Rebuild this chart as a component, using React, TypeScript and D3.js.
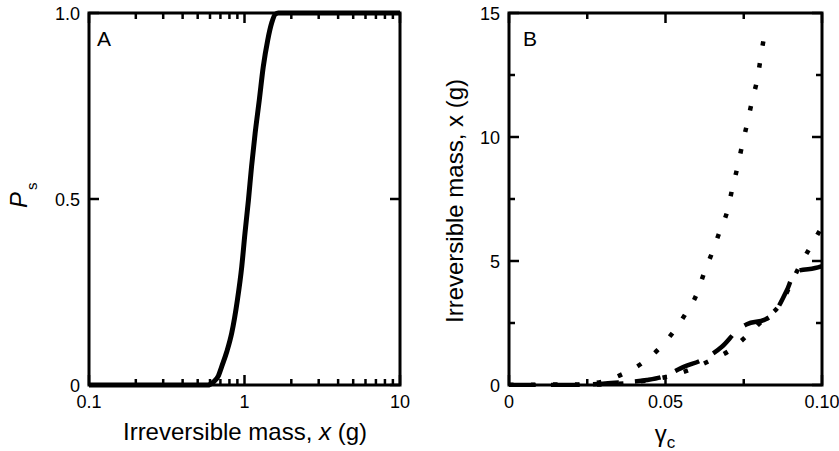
import React from "react";
import * as d3 from "d3";

// Panel A: survival probability vs irreversible mass (log x)
const aMass = [0.1, 0.58, 0.63, 0.68, 0.713, 0.77, 0.827, 0.9, 0.96, 1.007, 1.06, 1.11, 1.17, 1.245, 1.32, 1.41, 1.5, 1.58, 1.65, 10];
const aPs = [0, 0, 0.008, 0.025, 0.049, 0.09, 0.139, 0.228, 0.318, 0.408, 0.497, 0.587, 0.676, 0.766, 0.855, 0.927, 0.975, 0.997, 1, 1];
const aXMajor = [0.1, 1, 10];
const aXMinor = [0.2, 0.3, 0.4, 0.5, 0.6, 0.7, 0.8, 0.9, 2, 3, 4, 5, 6, 7, 8, 9];
const aYTicks = [0, 0.5, 1];
const aYLabels = ["0", "0.5", "1.0"];

// Panel B: irreversible mass vs gamma_c
const bSteepG = [0, 0.02, 0.025, 0.0296, 0.0363, 0.0424, 0.0479, 0.0525, 0.0565, 0.06, 0.0624, 0.065, 0.0674, 0.0699, 0.0714, 0.0731, 0.0746, 0.0762, 0.0777, 0.0794, 0.0805, 0.082];
const bSteepX = [0, 0.01, 0.05, 0.13, 0.44, 0.87, 1.46, 2.14, 2.89, 3.67, 4.54, 5.37, 6.22, 7.08, 7.96, 8.84, 9.74, 10.6, 11.48, 12.38, 13.27, 14.45];
const bDashG = [0, 0.02, 0.03, 0.035, 0.044, 0.049, 0.056, 0.062, 0.068, 0.0733, 0.076, 0.082, 0.085, 0.0888, 0.0915, 0.0995, 0.1];
const bDashX = [0, 0, 0.05, 0.1, 0.2, 0.33, 0.74, 1.03, 1.54, 2.24, 2.45, 2.65, 2.95, 3.83, 4.57, 4.77, 4.8];
const bDotG = [0, 0.03, 0.0448, 0.051, 0.058, 0.0642, 0.0707, 0.0762, 0.081, 0.0861, 0.093, 0.0968, 0.1];
const bDotX = [0, 0.02, 0.2, 0.35, 0.63, 0.98, 1.41, 2.01, 2.6, 3.16, 4.83, 5.68, 6.38];
const bXMajor = [0, 0.05, 0.1];
const bXLabels = ["0", "0.05", "0.10"];
const bXMinor = [0.025, 0.075];
const bYMajor = [0, 5, 10, 15];
const bYMinor = [2.5, 7.5, 12.5];

const FONT = "'Liberation Sans', Arial, Helvetica, sans-serif";

export default function App() {
  const top = 13, bottom = 385;
  const aL = 89, aR = 400, bL = 509, bR = 822;
  const major = 10, minor = 6;

  const ax = d3.scaleLog().domain([0.1, 10]).range([aL, aR]);
  const ay = d3.scaleLinear().domain([0, 1]).range([bottom, top]);
  const bx = d3.scaleLinear().domain([0, 0.1]).range([bL, bR]);
  const by = d3.scaleLinear().domain([0, 15]).range([bottom, top]);

  const aLine = d3.line<number>().x((d, i) => ax(aMass[i])).y((d) => ay(d)).curve(d3.curveMonotoneX);
  const mk = (gs: number[]) => d3.line<number>().x((d, i) => bx(gs[i])).y((d) => by(d)).curve(d3.curveMonotoneX);

  const vt = (x: number, len: number, k: string) => (
    <g key={k}>
      <line x1={x} x2={x} y1={bottom} y2={bottom - len} stroke="#000" strokeWidth={2.5} />
      <line x1={x} x2={x} y1={top} y2={top + len} stroke="#000" strokeWidth={2.5} />
    </g>
  );
  const ht = (y: number, l: number, r: number, len: number, k: string) => (
    <g key={k}>
      <line x1={l} x2={l + len} y1={y} y2={y} stroke="#000" strokeWidth={2.5} />
      <line x1={r} x2={r - len} y1={y} y2={y} stroke="#000" strokeWidth={2.5} />
    </g>
  );

  return (
    <svg width={839} height={451} style={{ position: "absolute", left: 0, top: 0, background: "#fff" }} fontFamily={FONT}>
      <defs>
        <clipPath id="clipB">
          <rect x={bL - 2} y={top - 2} width={bR - bL + 6} height={bottom - top + 4} />
        </clipPath>
      </defs>
      {/* Panel A */}
      <path d={aLine(aPs) || ""} fill="none" stroke="#000" strokeWidth={5} />
      {aXMajor.map((v, i) => vt(ax(v), major, "am" + i))}
      {aXMinor.map((v, i) => vt(ax(v), minor, "an" + i))}
      {aYTicks.map((v, i) => ht(ay(v), aL, aR, major, "ay" + i))}
      <rect x={aL} y={top} width={aR - aL} height={bottom - top} fill="none" stroke="#000" strokeWidth={3} />
      {aXMajor.map((v, i) => (
        <text key={"axl" + i} x={ax(v)} y={408} fontSize={18} textAnchor="middle">{String(v)}</text>
      ))}
      {aYTicks.map((v, i) => (
        <text key={"ayl" + i} x={80} y={ay(v) + 6.5} fontSize={18} textAnchor="end">{aYLabels[i]}</text>
      ))}
      <text x={97} y={46} fontSize={21}>A</text>
      <text x={245} y={440} fontSize={24} textAnchor="middle">
        Irreversible mass, <tspan fontStyle="italic">x</tspan> (g)
      </text>
      <text transform={`translate(27,${208}) rotate(-90)`} fontSize={24}>
        <tspan fontStyle="italic">P</tspan>
        <tspan fontSize={15} dy={10} dx={2}>s</tspan>
      </text>

      {/* Panel B */}
      <g clipPath="url(#clipB)">
        <path d={mk(bSteepG)(bSteepX) || ""} fill="none" stroke="#000" strokeWidth={4.5} strokeDasharray="4.5 17.5" />
        <path d={mk(bDotG)(bDotX) || ""} fill="none" stroke="#000" strokeWidth={4.5} strokeDasharray="4.5 17.5" />
        <path d={mk(bDashG)(bDashX) || ""} fill="none" stroke="#000" strokeWidth={4.5} strokeDasharray="26 16" />
      </g>
      {bXMajor.map((v, i) => vt(bx(v), major, "bm" + i))}
      {bXMinor.map((v, i) => vt(bx(v), minor, "bn" + i))}
      {bYMajor.map((v, i) => ht(by(v), bL, bR, major, "by" + i))}
      {bYMinor.map((v, i) => ht(by(v), bL, bR, minor, "bz" + i))}
      <rect x={bL} y={top} width={bR - bL} height={bottom - top} fill="none" stroke="#000" strokeWidth={3} />
      {bXMajor.map((v, i) => (
        <text key={"bxl" + i} x={bx(v)} y={408} fontSize={18} textAnchor="middle">{bXLabels[i]}</text>
      ))}
      {bYMajor.map((v, i) => (
        <text key={"byl" + i} x={500} y={by(v) + 6.5} fontSize={18} textAnchor="end">{String(v)}</text>
      ))}
      <text x={523} y={46} fontSize={21}>B</text>
      <text x={665} y={442} fontSize={24} textAnchor="middle">
        γ<tspan fontSize={17} dy={6}>c</tspan>
      </text>
      <text transform={`translate(463,${201}) rotate(-90)`} fontSize={24} textAnchor="middle">
        Irreversible mass, x (g)
      </text>
    </svg>
  );
}
